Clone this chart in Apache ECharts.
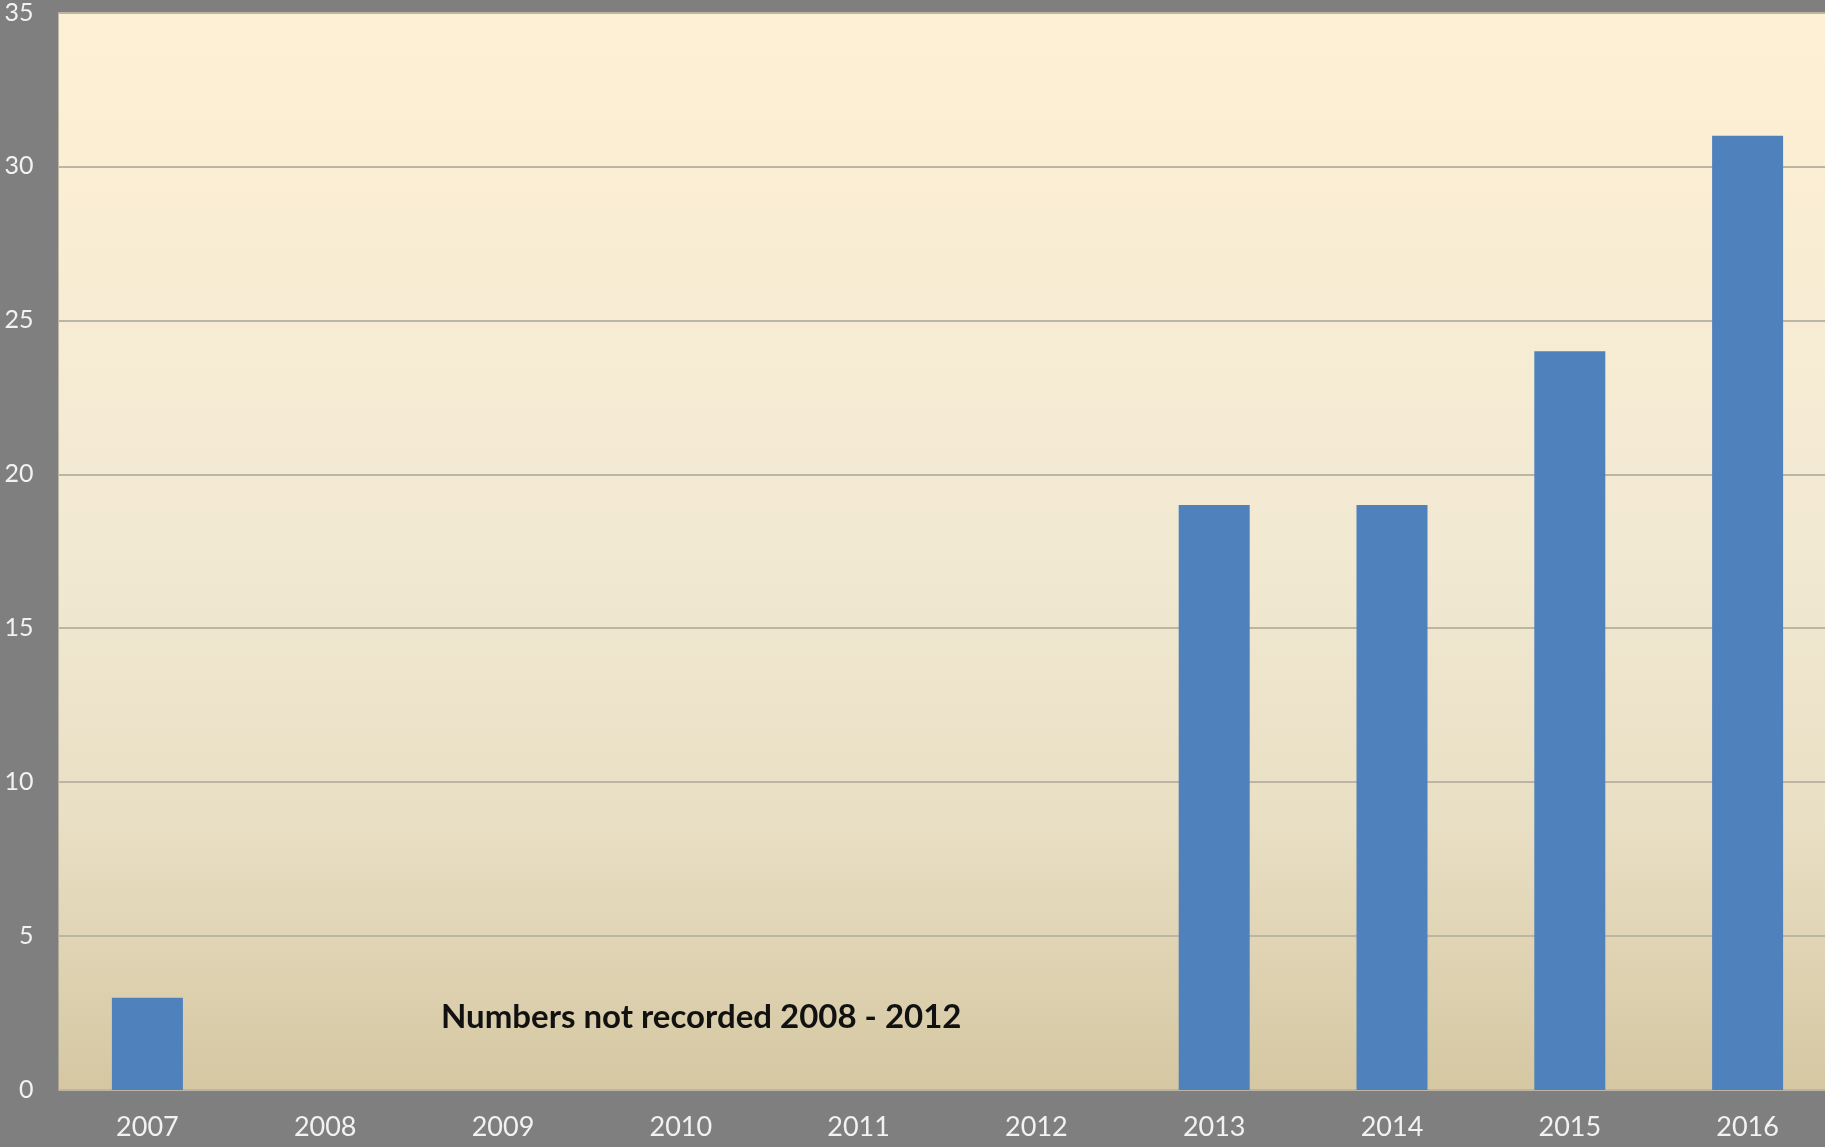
<!DOCTYPE html>
<html><head><meta charset="utf-8">
<script src="https://cdn.jsdelivr.net/npm/echarts@6/dist/echarts.min.js"></script>
<style>html,body{margin:0;padding:0;background:#7f7f7f;overflow:hidden;}#c{width:1860px;height:1147px;}</style>
</head><body><div id="c"></div>
<script>
const years = ['2007','2008','2009','2010','2011','2012','2013','2014','2015','2016'];
const counts = [3, null, null, null, null, null, 19, 19, 24, 31];
const yTicks = [0, 5, 10, 15, 20, 25, 30, 35];
const note = 'Numbers not recorded 2008 - 2012';

const chart = echarts.init(document.getElementById('c'));
chart.setOption({
  backgroundColor: '#7f7f7f',
  animation: false,
  grid: {
    left: 58.5, top: 11, bottom: 57, width: 1778, containLabel: false,
    show: true, borderWidth: 0,
    backgroundColor: new echarts.graphic.LinearGradient(0, 0, 0, 1, [
      {offset: 0, color: '#fef0d4'},
      {offset: 0.5, color: '#f2e9d3'},
      {offset: 0.75, color: '#e9dfc4'},
      {offset: 1, color: '#d5c7a2'}
    ])
  },
  xAxis: {
    type: 'category', data: years,
    axisLine: {show: false}, axisTick: {show: false},
    axisLabel: {color: '#f2f2f2', fontFamily: 'Lato', fontSize: 27, margin: 24}
  },
  yAxis: {
    type: 'value', min: 0, max: 35, interval: 5,
    axisLine: {show: false}, axisTick: {show: false},
    axisLabel: {color: '#f2f2f2', fontFamily: 'Lato', fontSize: 25, margin: 25,
      formatter: v => yTicks.includes(v) ? String(v) : ''},
    splitLine: {lineStyle: {color: '#bdb5a3', width: 2}}
  },
  series: [{
    type: 'bar', data: counts, barWidth: 71,
    itemStyle: {color: '#4f81bd'}
  }],
  graphic: [{
    type: 'text', left: 441, top: 1001,
    style: {text: note, fill: '#111', font: 'bold 33px Lato'}
  }]
});
</script></body></html>
